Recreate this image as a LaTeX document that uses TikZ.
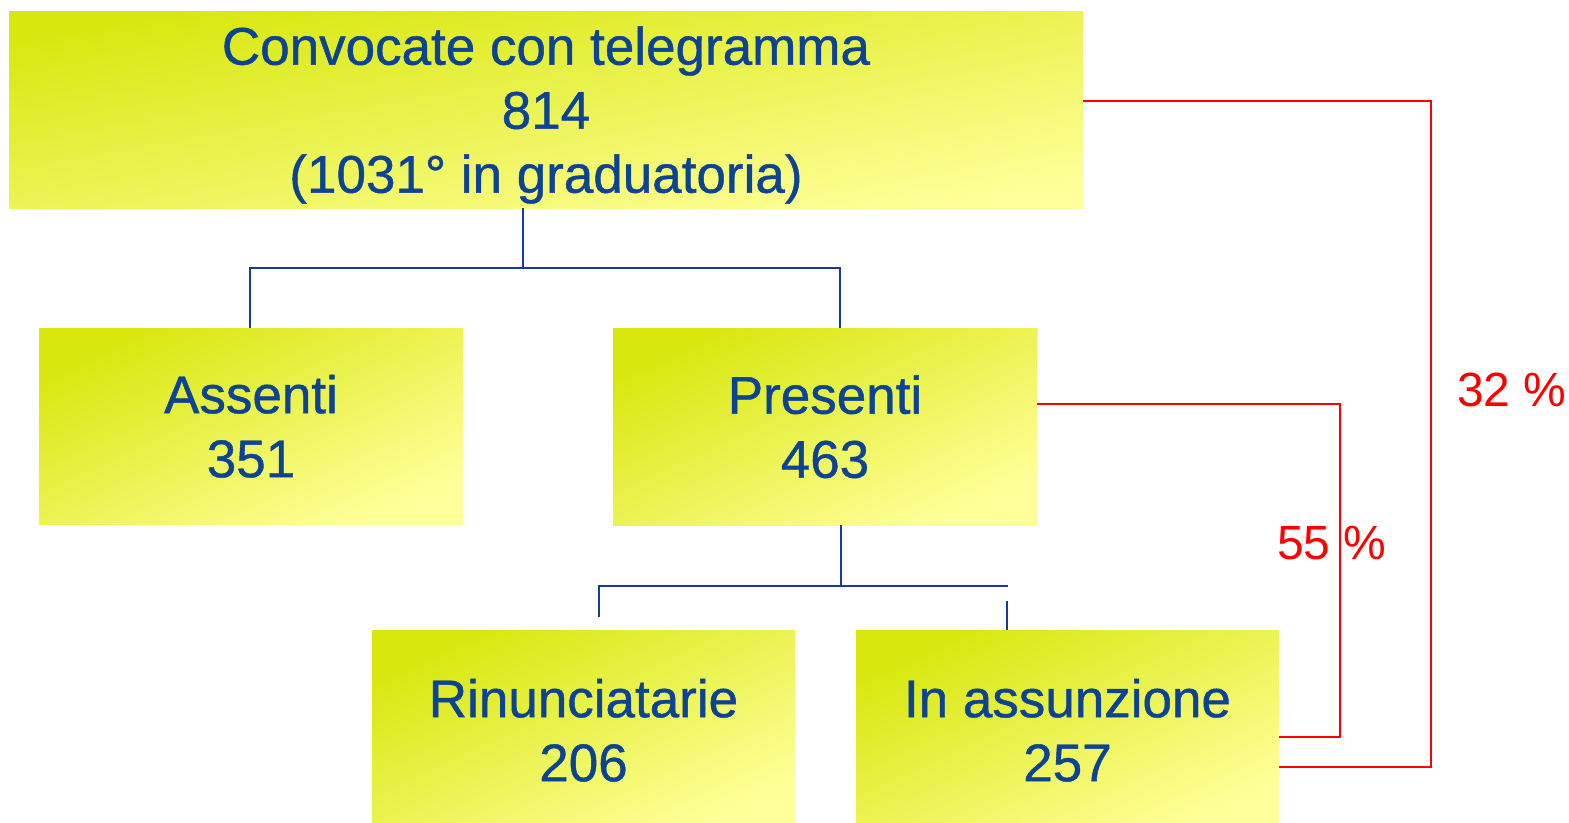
\documentclass[tikz,border=0pt]{standalone}
\usepackage{fontspec}
\setmainfont{Liberation Sans}
\newfontfamily\boxfont[FakeBold=0.8]{Liberation Sans}
\definecolor{boxdark}{RGB}{216,231,14}
\definecolor{boxlight}{RGB}{255,255,153}
\definecolor{textblue}{RGB}{12,67,146}
\definecolor{lineblue}{RGB}{24,58,160}
\begin{document}
\begin{tikzpicture}[x=1pt,y=-1pt]
	\tikzstyle{every node}+=[inner sep=0pt]
	\tikzstyle{box}=[rectangle, top color=boxdark, bottom color=boxlight, shading angle=25, text=textblue, font=\boxfont\fontsize{53}{64}\selectfont, align=center, text depth=0pt]
	\tikzstyle{tree}=[lineblue, line width=2.6pt]
	\tikzstyle{share}=[red, line width=1.8pt]
	\tikzstyle{pct}=[text=red, font=\fontsize{48}{56}\selectfont, anchor=base west]
	\useasboundingbox (0,0) rectangle (1569,822);
	\clip (0,0) rectangle (1569,822);
	\node [box, shading angle=10, minimum width=1074pt, minimum height=197pt] (convocate) at (546,109.5) {Convocate con telegramma\\814\\(1031° in graduatoria)};
	\node [box, minimum width=424pt, minimum height=196pt] (assenti) at (251,426) {Assenti\\351};
	\node [box, minimum width=424pt, minimum height=197pt] (presenti) at (825,426.5) {Presenti\\463};
	\node [box, minimum width=423pt, minimum height=200pt] (rinunce) at (583.5,730) {Rinunciatarie\\206};
	\node [box, minimum width=423pt, minimum height=200pt] (assunte) at (1067.5,730) {In assunzione\\257};
	\coordinate (fork1) at (523,268);
	\coordinate (fork2) at (841,586);
	\coordinate (rinTip) at (599,617);
	\coordinate (assTip) at (1007,601);
	\coordinate (forkEnd) at (1008,586);
	\draw [tree] (convocate.south -| fork1) -- (fork1);
	\draw [tree] (assenti.north -| 250,0) |- (fork1) -| ([xshift=15pt]presenti.north);
	\draw [tree] (presenti.south -| fork2) -- (fork2);
	\draw [tree] (rinTip) |- (forkEnd);
	\draw [tree] (assTip) -- (assunte.north -| assTip);
	\draw [share] (convocate.east |- 0,101) -| (1431,767) -- (assunte.east |- 0,767);
	\draw [share] (presenti.east |- 0,404) -| (1340,737) -- (assunte.east |- 0,737);
	\node [pct] (p32) at (1457,406) {32 \%};
	\node [pct] (p55) at (1277,559) {55 \%};
\end{tikzpicture}
\end{document}
